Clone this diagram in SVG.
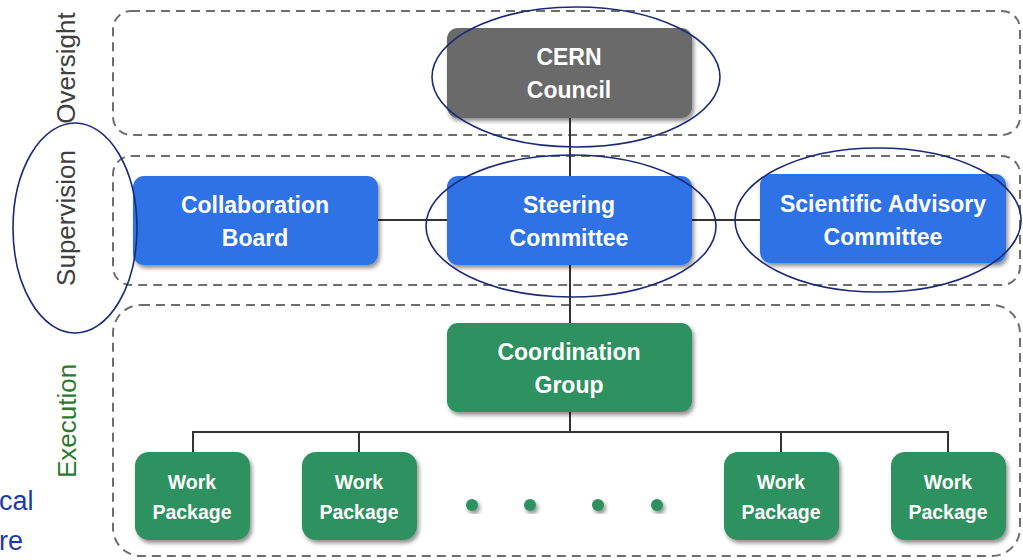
<svg xmlns="http://www.w3.org/2000/svg" width="1023" height="560" viewBox="0 0 1023 560">
  <defs>
    <filter id="sh" x="-10%" y="-10%" width="125%" height="130%">
      <feGaussianBlur in="SourceAlpha" stdDeviation="2"/>
      <feOffset dx="2" dy="3" result="b"/>
      <feComponentTransfer><feFuncA type="linear" slope="0.45"/></feComponentTransfer>
      <feMerge><feMergeNode/><feMergeNode in="SourceGraphic"/></feMerge>
    </filter>
  </defs>
  <style>
    .zone{fill:none;stroke:#6e6e6e;stroke-width:2;stroke-dasharray:9 6}
    .lbl{font-family:"Liberation Sans",Arial,sans-serif;font-size:26px;text-anchor:middle}
    .node text{font-family:"Liberation Sans",Arial,sans-serif;font-weight:bold;fill:#fff;text-anchor:middle}
    .big{font-size:23px}
    .small{font-size:19.5px}
    .blue{fill:#2f72e6}
    .green{fill:#2e9160}
    .grey{fill:#6b6b6b}
    .conn line{stroke:#333;stroke-width:2}
    .ring{fill:none;stroke:#1b2a78;stroke-width:1.6}
  </style>
  <rect width="1023" height="560" fill="#fff"/>

  <g id="zones">
    <rect class="zone" x="113" y="11" width="907" height="124" rx="18"/>
    <rect class="zone" x="113" y="156" width="907" height="129" rx="18"/>
    <rect class="zone" x="113" y="305" width="907" height="251" rx="28"/>
  </g>

  <g id="zone-labels">
    <text class="lbl" fill="#404040" transform="translate(75,68) rotate(-90)">Oversight</text>
    <text class="lbl" fill="#404040" transform="translate(75,218) rotate(-90)">Supervision</text>
    <text class="lbl" fill="#2d7a2d" transform="translate(76,421) rotate(-90)">Execution</text>
  </g>

  <g id="side-text" font-family="'Liberation Sans',Arial,sans-serif" font-size="27" fill="#1a3ca8">
    <text x="-1" y="510">cal</text>
    <text x="-1" y="550">re</text>
  </g>

  <g id="connectors" class="conn">
    <line x1="570" y1="118" x2="570" y2="176"/>
    <line x1="378" y1="220" x2="447" y2="220"/>
    <line x1="692" y1="220" x2="760" y2="220"/>
    <line x1="570" y1="265" x2="570" y2="323"/>
    <line x1="570" y1="412" x2="570" y2="432"/>
    <line x1="192" y1="432" x2="949" y2="432"/>
    <line x1="193" y1="431" x2="193" y2="452"/>
    <line x1="359" y1="431" x2="359" y2="452"/>
    <line x1="781" y1="431" x2="781" y2="452"/>
    <line x1="948" y1="431" x2="948" y2="452"/>
  </g>

  <g id="cern-council" class="node">
    <rect class="grey" x="447" y="28" width="245" height="90" rx="11" filter="url(#sh)"/>
    <text class="big" x="569" y="65">CERN</text>
    <text class="big" x="569" y="98">Council</text>
  </g>
  <g id="collaboration-board" class="node">
    <rect class="blue" x="133" y="176" width="245" height="89" rx="11" filter="url(#sh)"/>
    <text class="big" x="255" y="213">Collaboration</text>
    <text class="big" x="255" y="246">Board</text>
  </g>
  <g id="steering-committee" class="node">
    <rect class="blue" x="447" y="176" width="245" height="89" rx="11" filter="url(#sh)"/>
    <text class="big" x="569" y="213">Steering</text>
    <text class="big" x="569" y="246">Committee</text>
  </g>
  <g id="scientific-advisory-committee" class="node">
    <rect class="blue" x="760" y="174" width="246" height="89" rx="11" filter="url(#sh)"/>
    <text class="big" x="883" y="212">Scientific Advisory</text>
    <text class="big" x="883" y="245">Committee</text>
  </g>
  <g id="coordination-group" class="node">
    <rect class="green" x="447" y="323" width="245" height="89" rx="11" filter="url(#sh)"/>
    <text class="big" x="569" y="360">Coordination</text>
    <text class="big" x="569" y="393">Group</text>
  </g>
  <g id="work-package-1" class="node">
    <rect class="green" x="135" y="452" width="115" height="88" rx="14" filter="url(#sh)"/>
    <text class="small" x="192" y="489">Work</text>
    <text class="small" x="192" y="519">Package</text>
  </g>
  <g id="work-package-2" class="node">
    <rect class="green" x="302" y="452" width="115" height="88" rx="14" filter="url(#sh)"/>
    <text class="small" x="359" y="489">Work</text>
    <text class="small" x="359" y="519">Package</text>
  </g>
  <g id="work-package-3" class="node">
    <rect class="green" x="724" y="452" width="115" height="88" rx="14" filter="url(#sh)"/>
    <text class="small" x="781" y="489">Work</text>
    <text class="small" x="781" y="519">Package</text>
  </g>
  <g id="work-package-4" class="node">
    <rect class="green" x="891" y="452" width="115" height="88" rx="14" filter="url(#sh)"/>
    <text class="small" x="948" y="489">Work</text>
    <text class="small" x="948" y="519">Package</text>
  </g>

  <g id="ellipsis-dots" class="green" filter="url(#sh)">
    <circle cx="472" cy="505" r="6"/>
    <circle cx="530" cy="505" r="6"/>
    <circle cx="598" cy="505" r="6"/>
    <circle cx="657" cy="505" r="6"/>
  </g>

  <g id="highlight-rings">
    <ellipse class="ring" cx="576" cy="77" rx="144" ry="70"/>
    <ellipse class="ring" cx="571" cy="226" rx="145" ry="71"/>
    <ellipse class="ring" cx="878" cy="220" rx="143" ry="72"/>
    <ellipse class="ring" cx="75" cy="228" rx="62" ry="105"/>
  </g>
</svg>
